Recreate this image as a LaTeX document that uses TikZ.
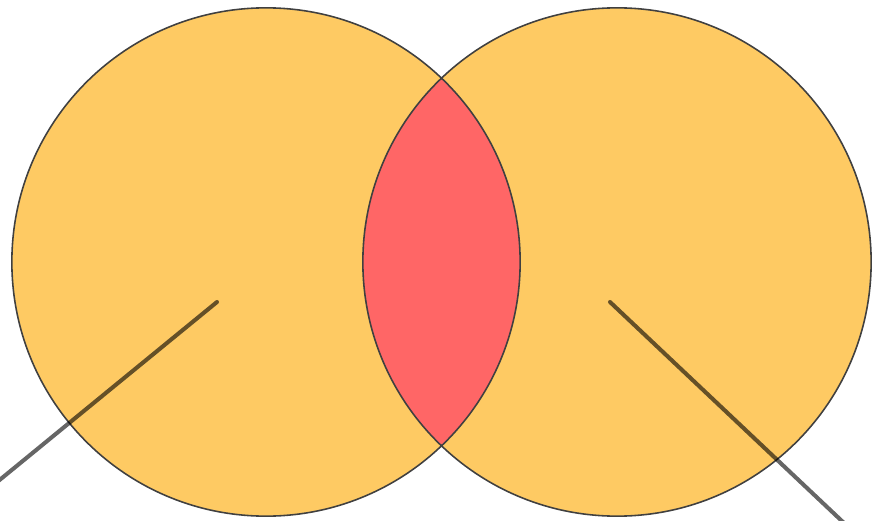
\documentclass[tikz,border=0pt]{standalone}
\definecolor{setfill}{HTML}{FECA63}
\definecolor{lensfill}{HTML}{FF6666}
\begin{document}
\begin{tikzpicture}[
    x=0.01cm, y=-0.01cm,
    set/.style={circle, fill=setfill, minimum size=5.08cm, inner sep=0pt},
    lens/.style={fill=lensfill},
    rim/.style={draw=black!75, line width=0.45pt},
    pointer/.style={black, opacity=0.6, line width=1.15pt, line cap=round}]
  \useasboundingbox (0,0) rectangle (872,521);
  \clip (0,0) rectangle (872,521);
  \node[set] (setA) at (266,262) {};
  \node[set] (setB) at (617,262) {};
  \begin{scope}
    \clip (setA.center) circle (2.54cm);
    \fill[lens] (setB.center) circle (2.54cm);
  \end{scope}
  \draw[rim] (setA.center) circle (2.54cm)
             (setB.center) circle (2.54cm);
  % pointers
  \coordinate (tipA) at (217,302);
  \coordinate (outA) at (-20,496);
  \coordinate (tipB) at (610,302);
  \coordinate (outB) at (862,540);
  \draw[pointer] (tipA) -- (outA);
  \draw[pointer] (tipB) -- (outB);
\end{tikzpicture}
\end{document}
